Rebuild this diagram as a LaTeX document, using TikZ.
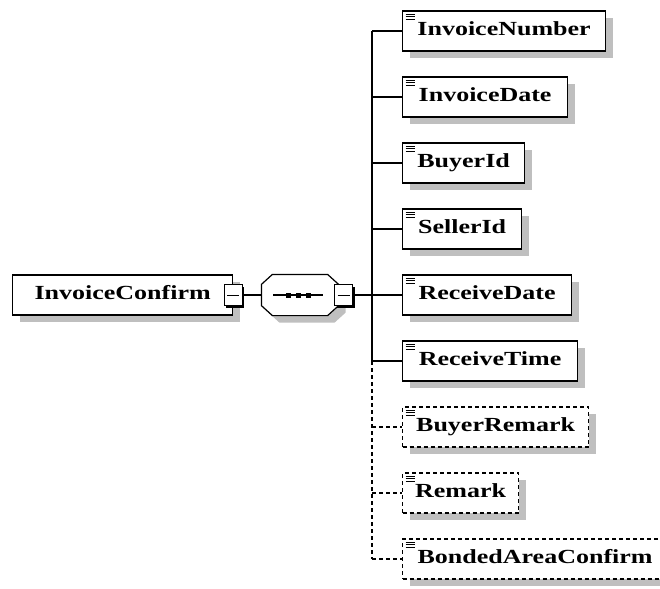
\documentclass[tikz,border=0pt]{standalone}
\usepackage{fontspec}
\newfontfamily\xsdfont[FakeStretch=1.3]{Liberation Serif}
\usepackage{tikz}
\usetikzlibrary{shadows}
\tikzset{
  xsd shadow/.style={drop shadow={shadow xshift=7pt,shadow yshift=-7pt,fill=black!25,opacity=1}},
  elem/.style={draw,fill=white,line width=1.2pt,minimum width=#1,minimum height=40pt,
    inner sep=0pt,anchor=west,text height=13pt,text depth=4pt,
    font=\xsdfont\bfseries\fontsize{20}{22}\selectfont,xsd shadow},
  child/.style={elem=#1,path picture={
    \foreach \off in {3,5.5,8}
      \draw[solid,line width=.7pt] ([xshift=3pt,yshift=-\off pt]path picture bounding box.north west) -- ++(9pt,0pt);}},
  optional/.style={dash pattern=on 4pt off 3pt},
  minus/.style={draw,fill=white,line width=1.2pt,minimum width=18pt,minimum height=21pt,inner sep=0pt,
    drop shadow={shadow xshift=2pt,shadow yshift=-2pt,fill=black,opacity=1},
    path picture={\draw[line width=.9pt] ([xshift=3pt]path picture bounding box.west) -- ([xshift=-3pt]path picture bounding box.east);}},
  seqbox/.style={minimum width=76pt,minimum height=40pt,inner sep=0pt}
}
\begin{document}
\begin{tikzpicture}[x=1pt,y=-1pt,line width=1.2pt]
  \useasboundingbox (0,0) rectangle (660,588);
  \node[elem=220pt] (conf) at (12,295) {InvoiceConfirm};
  \node[minus] (m1) at (conf.east) {};
  \node[seqbox] (seq) at (300,295) {};
  \draw[fill=white,line width=1.2pt,xsd shadow] ([xshift=11pt]seq.north west) -- ([xshift=-11pt]seq.north east)
    -- ([yshift=-10pt]seq.north east) -- ([yshift=10pt]seq.south east) -- ([xshift=-11pt]seq.south east)
    -- ([xshift=11pt]seq.south west) -- ([yshift=10pt]seq.south west) -- ([yshift=-10pt]seq.north west) -- cycle;
  \node[minus] (m2) at ([xshift=5pt]seq.east) {};
  \draw (seq.center) +(-27,0) -- +(23,0);
  \foreach \x in {-12,-2,8} \fill ([xshift=\x pt]seq.center) +(-2.5,-2.5) rectangle +(2.5,2.5);
  \draw (m1) -- (seq);
  \coordinate (trunk) at (372,295);
  \node[child=203pt] (num) at (402,31) {InvoiceNumber};
  \node[child=165pt] (date) at (402,97) {InvoiceDate};
  \node[child=122pt] (buyer) at (402,163) {BuyerId};
  \node[child=119pt] (seller) at (402,229) {SellerId};
  \node[child=169pt] (rdate) at (402,295) {ReceiveDate};
  \node[child=175pt] (rtime) at (402,361) {ReceiveTime};
  \node[child=186pt,optional] (bremark) at (402,427) {BuyerRemark};
  \node[child=116pt,optional] (remark) at (402,493) {Remark};
  \node[child=265pt,optional] (bonded) at (402,559) {BondedAreaConfirm};
  \draw (m2) -- (trunk);
  \draw (num.west -| trunk) -- (rtime.west -| trunk);
  \draw[optional] (rtime.west -| trunk) -- (bonded.west -| trunk);
  \foreach \n in {num,date,buyer,seller,rdate,rtime}
    \draw (\n.west -| trunk) -- (\n.west);
  \foreach \n in {bremark,remark,bonded}
    \draw[optional] (\n.west -| trunk) -- (\n.west);
\end{tikzpicture}
\end{document}
